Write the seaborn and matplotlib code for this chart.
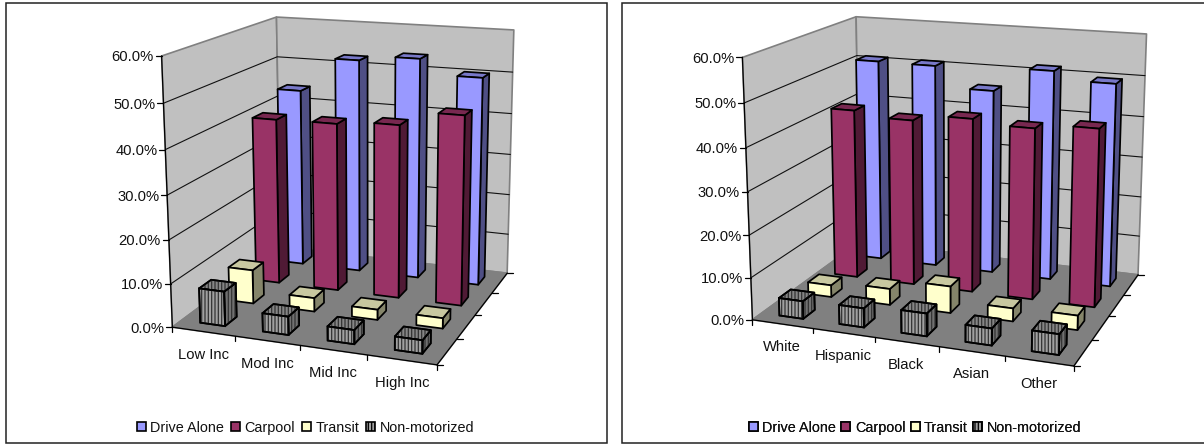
import numpy as np
import pandas as pd
import seaborn as sns
import matplotlib
matplotlib.use("Agg")
import matplotlib.pyplot as plt
from matplotlib.patches import Patch, Polygon, Rectangle

# Commute mode shares (percent) by income group and by ethnicity
modes = ["Drive Alone", "Carpool", "Transit", "Non-motorized"]
income_groups = ["Low Inc", "Mod Inc", "Mid Inc", "High Inc"]
income_drive_alone = [44.0, 52.4, 53.7, 50.2]
income_carpool = [40.0, 40.2, 41.1, 44.5]
income_transit = [8.0, 3.2, 2.4, 2.4]
income_non_motorized = [8.0, 4.2, 3.2, 3.0]

ethnic_groups = ["White", "Hispanic", "Black", "Asian", "Other"]
ethnic_drive_alone = [51.0, 50.9, 45.8, 51.7, 49.7]
ethnic_carpool = [41.8, 40.6, 42.2, 41.2, 42.4]
ethnic_transit = [2.9, 3.9, 6.4, 3.1, 3.4]
ethnic_non_motorized = [4.2, 4.5, 5.3, 3.9, 4.7]

y_ticks = [0, 10, 20, 30, 40, 50, 60]

sns.set_theme(style="white")
plt.rcParams["font.family"] = ["Liberation Sans", "DejaVu Sans"]
plt.rcParams["hatch.linewidth"] = 0.9

FRONT = {"Drive Alone": "#9999FF", "Carpool": "#993366",
         "Transit": "#FFFFCC", "Non-motorized": "#A0A0A0"}
SIDE = {"Drive Alone": "#4F4F85", "Carpool": "#501A35",
        "Transit": "#85856A", "Non-motorized": "#707070"}
TOP = {"Drive Alone": "#7878C8", "Carpool": "#782850",
       "Transit": "#C8C8A0", "Non-motorized": "#858585"}
INK = "#000000"
FONT = 10.6
LEGEND_FONT = 10.4
BAR_LW = 1.25


def fit_camera(corners):
    """Direct linear transform from box corners (u, v, z) to canvas pixels."""
    rows = []
    for (u, v, z), (x, y) in corners.items():
        rows.append([u, v, z, 1, 0, 0, 0, 0, -x * u, -x * v, -x * z, -x])
        rows.append([0, 0, 0, 0, u, v, z, 1, -y * u, -y * v, -y * z, -y])
    return np.linalg.svd(np.array(rows, float))[2][-1].reshape(3, 4)


def project(camera, u, v, z):
    px = camera @ np.array([u, v, z, 1.0])
    return px[0] / px[2], px[1] / px[2]


def face(ax, camera, pts, color, hatch=None, lw=BAR_LW, edge=INK, zorder=3):
    xy = [project(camera, *p) for p in pts]
    ax.add_patch(Polygon(xy, closed=True, facecolor=color, edgecolor=edge,
                         lw=lw, joinstyle="round", zorder=zorder))
    if hatch:
        ax.add_patch(Polygon(xy, closed=True, facecolor="none", edgecolor="#333333",
                             lw=0, hatch=hatch, zorder=zorder))
        ax.add_patch(Polygon(xy, closed=True, facecolor="none", edgecolor=edge,
                             lw=lw, zorder=zorder))


def draw_panel(ax, frame, corners, table, legend_center, column_gap):
    x0, y0, x1, y1 = frame
    ax.add_patch(Rectangle((x0, y0), x1 - x0, y1 - y0, facecolor="white",
                           edgecolor="#222222", lw=1.1, zorder=0))
    cam = fit_camera(corners)
    zmax = max(y_ticks)
    n = len(table)

    # Walls and floor
    wall = "#C0C0C0"
    face(ax, cam, [(0, 0, 0), (0, 1, 0), (0, 1, 1), (0, 0, 1)], wall, lw=1.2, edge="#808080", zorder=1)
    face(ax, cam, [(0, 1, 0), (1, 1, 0), (1, 1, 1), (0, 1, 1)], wall, lw=1.2, edge="#808080", zorder=1)
    face(ax, cam, [(0, 0, 0), (1, 0, 0), (1, 1, 0), (0, 1, 0)], "#808080", lw=1.2, edge="#808080", zorder=1)

    # Gridlines along both walls
    for t in y_ticks[1:-1]:
        z = t / zmax
        xs, ys = zip(*[project(cam, 0, 0, z), project(cam, 0, 1, z), project(cam, 1, 1, z)])
        ax.plot(xs, ys, color="#111111", lw=0.8, zorder=2)

    # Axis lines
    for a, b in [((0, 0, 0), (0, 0, 1)), ((0, 0, 0), (1, 0, 0)), ((1, 0, 0), (1, 1, 0))]:
        xs, ys = zip(project(cam, *a), project(cam, *b))
        ax.plot(xs, ys, color=INK, lw=0.9, zorder=2, solid_capstyle="projecting")

    # Value axis ticks and labels
    for t in y_ticks:
        x, y = project(cam, 0, 0, t / zmax)
        ax.plot([x - 6, x], [y, y], color=INK, lw=0.9, zorder=2)
        ax.text(x - 8, y, f"{t:.1f}%", ha="right", va="center_baseline", fontsize=FONT, color="#111111")

    # Category ticks and labels on the front edge
    for i in range(n + 1):
        x, y = project(cam, i / n, 0, 0)
        ax.plot([x, x], [y, y + 5], color=INK, lw=0.9, zorder=2)
    for i, name in enumerate(table.index):
        x, y = project(cam, (i + 0.5) / n, 0, 0)
        ax.text(x, y + 21.5, name, ha="center", va="center_baseline", fontsize=FONT, color="#111111")

    # Series ticks on the right edge
    for s in range(len(modes) + 1):
        x, y = project(cam, 1, s / len(modes), 0)
        ax.plot([x, x + 6], [y, y], color=INK, lw=0.9, zorder=2)

    # Columns, painted from the back row to the front row
    for s, mode in enumerate(modes):
        slot = len(modes) - 1 - s
        v0, v1 = (slot + 0.3) / len(modes), (slot + 0.7) / len(modes)
        hatch = "|" * 5 if mode == "Non-motorized" else None
        for i, value in enumerate(table[mode]):
            u0, u1 = (i + 0.3) / n, (i + 0.7) / n
            z = value / zmax
            face(ax, cam, [(u1, v0, 0), (u1, v1, 0), (u1, v1, z), (u1, v0, z)], SIDE[mode], hatch)
            face(ax, cam, [(u0, v0, z), (u1, v0, z), (u1, v1, z), (u0, v1, z)], TOP[mode], hatch)
            face(ax, cam, [(u0, v0, 0), (u1, v0, 0), (u1, v0, z), (u0, v0, z)], FRONT[mode], hatch)

    handles = [Patch(facecolor=FRONT[m], edgecolor=INK, lw=1.2,
                     hatch="|" * 5 if m == "Non-motorized" else None) for m in modes]
    leg = ax.legend(handles, modes, ncol=4, frameon=False, fontsize=LEGEND_FONT,
                    loc="center", bbox_to_anchor=legend_center,
                    bbox_transform=ax.transData, handlelength=0.62, handleheight=0.62,
                    handletextpad=0.3, columnspacing=column_gap, borderpad=0, labelcolor="#111111")
    ax.add_artist(leg)


fig = plt.figure(figsize=(12.04, 4.44), dpi=100, facecolor="white")
ax = fig.add_axes([0, 0, 1, 1])
ax.set_xlim(0, 1204)
ax.set_ylim(444, 0)
ax.axis("off")

income_table = pd.DataFrame(
    dict(zip(modes, [income_drive_alone, income_carpool, income_transit, income_non_motorized])),
    index=income_groups)
ethnic_table = pd.DataFrame(
    dict(zip(modes, [ethnic_drive_alone, ethnic_carpool, ethnic_transit, ethnic_non_motorized])),
    index=ethnic_groups)

draw_panel(ax, (6, 3, 607, 442.7),
           {(0, 0, 0): (172, 327), (1, 0, 0): (437, 365), (1, 1, 0): (507, 273), (0, 1, 0): (281, 247),
            (0, 0, 1): (162, 56), (1, 1, 1): (514, 30), (0, 1, 1): (276, 17)},
           income_table, (305.5, 427.5), 0.5)
draw_panel(ax, (621.5, 3, 1210, 442.7),
           {(0, 0, 0): (752.7, 320.7), (1, 0, 0): (1073.3, 365.7), (1, 1, 0): (1138.3, 275), (0, 1, 0): (860, 241),
            (0, 0, 1): (742.7, 56.7), (1, 1, 1): (1146.7, 34), (0, 1, 1): (855.7, 17.3)},
           ethnic_table, (915, 427.5), 0.38)

fig.savefig("out.png", dpi=100, facecolor="white")
